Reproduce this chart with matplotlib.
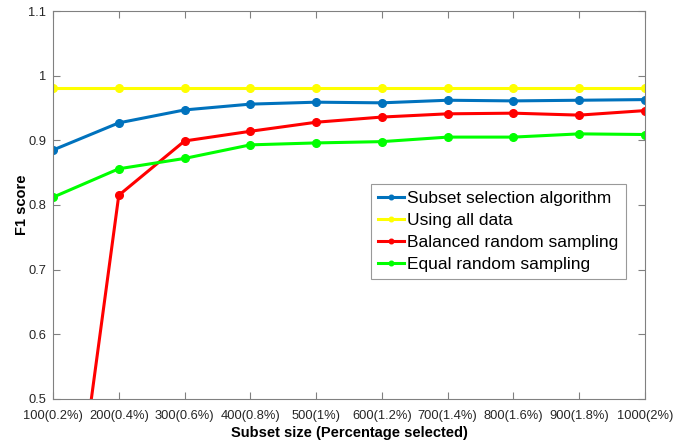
import numpy as np
import matplotlib.pyplot as plt

plt.rcParams['font.family'] = ['Liberation Sans', 'DejaVu Sans']

subset_sizes = [100, 200, 300, 400, 500, 600, 700, 800, 900, 1000]
tick_labels = ['100(0.2%)', '200(0.4%)', '300(0.6%)', '400(0.8%)', '500(1%)',
               '600(1.2%)', '700(1.4%)', '800(1.6%)', '900(1.8%)', '1000(2%)']

subset_alg = [0.885, 0.927, 0.947, 0.956, 0.959, 0.958, 0.962, 0.961, 0.962, 0.963]
all_data = [0.981] * 10
balanced = [0.06, 0.815, 0.899, 0.914, 0.928, 0.936, 0.941, 0.942, 0.939, 0.946]
equal = [0.812, 0.856, 0.872, 0.893, 0.896, 0.898, 0.905, 0.905, 0.910, 0.909]

fig = plt.figure(figsize=(6.83, 4.42), dpi=100)
ax = fig.add_axes([0.0776, 0.0973, 0.8668, 0.8778])

series = [
    (subset_alg, (0, 0.447, 0.741), 'Subset selection algorithm'),
    (all_data, (1, 1, 0), 'Using all data'),
    (balanced, (1, 0, 0), 'Balanced random sampling'),
    (equal, (0, 1, 0), 'Equal random sampling'),
]
for vals, col, lab in series:
    ax.plot(subset_sizes, vals, '-o', color=col, lw=2.2, ms=5.5, label=lab)

ax.set_xlim(100, 1000)
ax.set_ylim(0.5, 1.1)
ax.set_xticks(subset_sizes)
ax.set_xticklabels(tick_labels)
ax.set_yticks([0.5, 0.6, 0.7, 0.8, 0.9, 1.0, 1.1])
ax.set_yticklabels(['0.5', '0.6', '0.7', '0.8', '0.9', '1', '1.1'])

grey = '#808080'
for sp in ax.spines.values():
    sp.set_color(grey)
    sp.set_linewidth(0.8)
ax.tick_params(direction='in', top=True, right=True, length=5, width=0.8,
               color=grey, labelcolor='#262626', labelsize=9.3)
ax.tick_params(axis='x', pad=8)
ax.tick_params(axis='y', pad=5)

ax.set_xlabel('Subset size (Percentage selected)', fontsize=10.5, fontweight='bold', labelpad=3)
ax.set_ylabel('F1 score', fontsize=10.5, fontweight='bold', labelpad=-0.5)

leg = ax.legend(loc='upper left', bbox_to_anchor=(0.537, 0.554), borderaxespad=0,
                fontsize=12.5, handlelength=1.5, handletextpad=0.2, borderpad=0.4,
                labelspacing=0.4, fancybox=False, markerscale=0.6)
leg.get_frame().set_edgecolor(grey)
leg.get_frame().set_linewidth(0.8)

fig.savefig('out.png', dpi=100)
